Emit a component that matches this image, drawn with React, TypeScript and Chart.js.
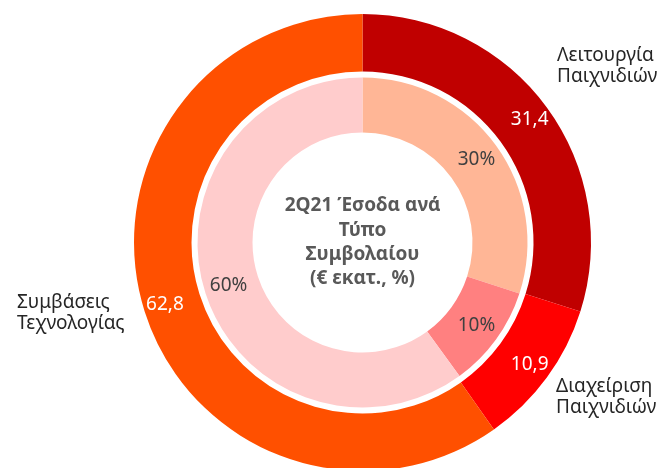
import React, { useEffect, useRef } from "react";
import { Chart, registerables } from "chart.js";

Chart.register(...registerables);

const categories = ["Λειτουργία Παιχνιδιών", "Διαχείριση Παιχνιδιών", "Συμβάσεις Τεχνολογίας"];
const revenueValues = [31.4, 10.9, 62.8];
const revenueLabels = ["31,4", "10,9", "62,8"];
const shareValues = [30, 10, 60];
const shareLabels = ["30%", "10%", "60%"];
const outerColors = ["#C00000", "#FF0000", "#FF5000"];
const innerColors = ["#FFB696", "#FF8080", "#FFCCCC"];
const centerLines = ["2Q21 Έσοδα ανά", "Τύπο", "Συμβολαίου", "(€ εκατ., %)"];

const FONT = "'Noto Sans', 'Open Sans', sans-serif";

const labelPlugin = {
  id: "ringLabels",
  afterDatasetsDraw(chart: any) {
    const ctx = chart.ctx;
    ctx.save();
    const drawRing = (dsIndex: number, texts: string[], color: string, frac: number) => {
      const meta = chart.getDatasetMeta(dsIndex);
      meta.data.forEach((arc: any, i: number) => {
        const p = arc.getProps(["x", "y", "startAngle", "endAngle", "innerRadius", "outerRadius"], true);
        const mid = (p.startAngle + p.endAngle) / 2;
        const r = p.innerRadius + frac * (p.outerRadius - p.innerRadius);
        ctx.fillStyle = color;
        ctx.font = `19px ${FONT}`;
        ctx.textAlign = "center";
        ctx.textBaseline = "middle";
        ctx.fillText(texts[i], p.x + Math.cos(mid) * r, p.y + Math.sin(mid) * r);
      });
    };
    drawRing(0, revenueLabels, "#FFFFFF", 0.63);
    drawRing(2, shareLabels, "#404040", 0.56);

    // center title
    const m = chart.getDatasetMeta(2).data[0];
    const cx = m.x;
    const cy = m.y;
    ctx.fillStyle = "#595959";
    ctx.font = `bold 19px ${FONT}`;
    ctx.textAlign = "center";
    ctx.textBaseline = "middle";
    centerLines.forEach((t, i) => {
      ctx.fillText(t, cx, cy - 36.5 + i * 24.3);
    });

    // category labels
    ctx.fillStyle = "#262626";
    ctx.font = `19px ${FONT}`;
    ctx.textAlign = "left";
    const catPos = [
      [557, 56],
      [556, 387],
      [17, 303],
    ];
    categories.forEach((c, i) => {
      const parts = c.split(" ");
      parts.forEach((pt, j) => {
        ctx.fillText(pt, catPos[i][0], catPos[i][1] + j * 21);
      });
    });
    ctx.restore();
  },
};

export default function App() {
  const ref = useRef<HTMLCanvasElement>(null);
  useEffect(() => {
    if (!ref.current) return;
    const chart = new Chart(ref.current, {
      type: "doughnut",
      data: {
        labels: categories,
        datasets: [
          {
            data: revenueValues,
            backgroundColor: outerColors,
            borderWidth: 0,
            weight: 57.5,
          },
          {
            data: [1],
            backgroundColor: ["rgba(0,0,0,0)"],
            borderWidth: 0,
            weight: 6,
          },
          {
            data: shareValues,
            backgroundColor: innerColors,
            borderWidth: 0,
            weight: 55,
          },
        ],
      },
      options: {
        responsive: false,
        animation: false,
        cutout: 110,
        layout: { padding: { top: 14, left: 134, right: 73, bottom: 9 } },
        plugins: {
          legend: { display: false },
          tooltip: { enabled: false },
        },
      },
      plugins: [labelPlugin],
    });
    return () => chart.destroy();
  }, []);
  return (
    <canvas
      ref={ref}
      width={664}
      height={480}
      style={{ position: "absolute", left: 0, top: 0, width: 664, height: 480 }}
    />
  );
}
